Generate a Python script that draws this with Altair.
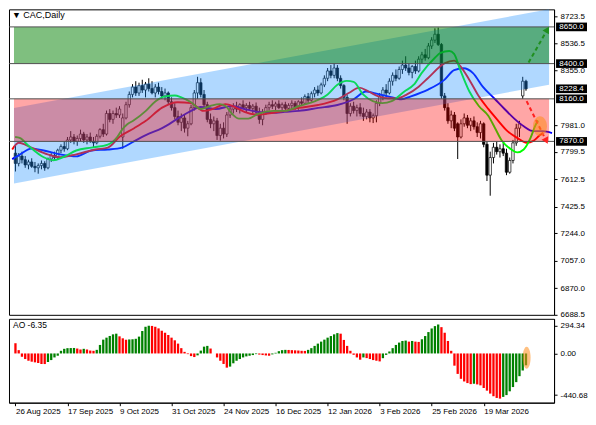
import altair as alt
import pandas as pd
import numpy as np

# ---------------- data ----------------
opens = [7790, 7720, 7770, 7745, 7710, 7730, 7700, 7690, 7705, 7720,
         7690, 7750, 7775, 7760, 7810, 7835, 7820, 7880, 7900, 7870,
         7890, 7920, 7880, 7900, 7870, 7860, 7905, 7950, 7920, 8060,
         8020, 8060, 8050, 7900, 8030, 8120, 8190, 8240, 8200, 8250,
         8220, 8260, 8230, 8200, 8240, 8210, 8180, 8200, 8140, 8100,
         8040, 8000, 8030, 7960, 7990, 8100, 8200, 8270, 8190, 8120,
         8020, 7990, 8010, 7910, 7960, 7920, 8050, 8090, 8110, 8090,
         8120, 8100, 8115, 8095, 8110, 8070, 8020, 8070, 8100, 8120,
         8110, 8125, 8100, 8120, 8095, 8115, 8130, 8100, 8140, 8130,
         8175, 8150, 8195, 8220, 8200, 8255, 8300, 8350, 8320, 8370,
         8300, 8250, 8170, 8060, 8110, 8080, 8100, 8060, 8040, 8070,
         8030, 8045, 8130, 8180, 8220, 8200, 8280, 8320, 8300, 8360,
         8390, 8370, 8340, 8380, 8350, 8430, 8460, 8440, 8520, 8560,
         8600, 8530, 8180, 8100, 8010, 8050, 7990, 7900, 7990, 8030,
         7980, 8010, 7970, 7930, 7990, 7850, 7640, 7760, 7830, 7800,
         7820, 7790, 7660, 7740, 7860, 7960, 8180, 8280]
highs = [7840, 7790, 7800, 7770, 7745, 7755, 7730, 7720, 7740, 7735,
         7760, 7790, 7800, 7820, 7850, 7870, 7900, 7940, 7920, 7910,
         7950, 7935, 7920, 7930, 7900, 7920, 7960, 7990, 8080, 8090,
         8080, 8100, 8110, 8060, 8140, 8210, 8260, 8280, 8270, 8290,
         8275, 8300, 8280, 8260, 8270, 8240, 8230, 8210, 8170, 8130,
         8080, 8060, 8050, 8010, 8120, 8220, 8310, 8300, 8220, 8140,
         8060, 8040, 8030, 7990, 8000, 8070, 8110, 8130, 8140, 8130,
         8150, 8130, 8140, 8125, 8135, 8100, 8090, 8120, 8140, 8150,
         8140, 8150, 8135, 8140, 8130, 8150, 8145, 8150, 8170, 8190,
         8200, 8210, 8240, 8250, 8270, 8320, 8370, 8390, 8400, 8390,
         8320, 8260, 8190, 8130, 8140, 8120, 8130, 8100, 8090, 8090,
         8060, 8150, 8200, 8240, 8260, 8300, 8340, 8360, 8380, 8420,
         8450, 8400, 8390, 8420, 8450, 8480, 8500, 8540, 8580, 8640,
         8645, 8540, 8200, 8130, 8080, 8070, 8000, 8020, 8060, 8050,
         8030, 8040, 8000, 8010, 8000, 7870, 7800, 7860, 7870, 7850,
         7860, 7820, 7760, 7880, 7990, 8010, 8310, 8290]
lows = [7665, 7700, 7720, 7690, 7680, 7690, 7660, 7650, 7680, 7670,
        7680, 7730, 7745, 7750, 7790, 7800, 7810, 7860, 7850, 7840,
        7870, 7860, 7850, 7860, 7830, 7850, 7890, 7900, 7910, 8000,
        7990, 8030, 8030, 7820, 8020, 8100, 8170, 8180, 8180, 8200,
        8170, 8210, 8190, 8170, 8190, 8160, 8150, 8120, 8080, 8020,
        7980, 7940, 7930, 7905, 7980, 8080, 8160, 8170, 8100, 8000,
        7960, 7940, 7880, 7875, 7890, 7900, 8030, 8060, 8070, 8060,
        8090, 8070, 8080, 8060, 8050, 7990, 7980, 8050, 8080, 8090,
        8080, 8090, 8070, 8080, 8070, 8090, 8085, 8085, 8110, 8120,
        8130, 8140, 8170, 8180, 8190, 8240, 8280, 8300, 8300, 8280,
        8230, 8150, 7990, 8040, 8060, 8040, 8040, 8010, 8020, 8000,
        7995, 8000, 8110, 8150, 8170, 8190, 8250, 8280, 8290, 8330,
        8350, 8320, 8300, 8330, 8340, 8400, 8420, 8430, 8500, 8540,
        8520, 8160, 8080, 7990, 7960, 7940, 7750, 7890, 7970, 7960,
        7940, 7950, 7900, 7890, 7830, 7600, 7500, 7720, 7780, 7760,
        7770, 7640, 7650, 7720, 7840, 7900, 8160, 8215]
closes = [7720, 7770, 7745, 7710, 7730, 7700, 7690, 7705, 7720, 7690,
          7750, 7775, 7760, 7810, 7835, 7820, 7880, 7900, 7870, 7890,
          7920, 7880, 7900, 7870, 7860, 7905, 7950, 7920, 8060, 8020,
          8060, 8050, 8090, 8030, 8120, 8190, 8240, 8200, 8250, 8220,
          8260, 8230, 8200, 8240, 8210, 8180, 8200, 8140, 8100, 8040,
          8000, 8030, 7960, 7990, 8100, 8200, 8270, 8190, 8120, 8020,
          7990, 8010, 7910, 7960, 7920, 8050, 8090, 8110, 8090, 8120,
          8100, 8115, 8095, 8110, 8070, 8020, 8070, 8100, 8120, 8110,
          8125, 8100, 8120, 8095, 8115, 8130, 8100, 8140, 8130, 8175,
          8150, 8195, 8220, 8200, 8255, 8300, 8350, 8320, 8370, 8300,
          8250, 8170, 8060, 8110, 8080, 8100, 8060, 8040, 8070, 8030,
          8045, 8130, 8180, 8220, 8200, 8280, 8320, 8300, 8360, 8390,
          8370, 8340, 8380, 8350, 8430, 8460, 8440, 8520, 8560, 8600,
          8530, 8180, 8100, 8010, 8050, 7960, 7900, 7990, 8030, 7980,
          8010, 7970, 7930, 7990, 7850, 7640, 7760, 7830, 7800, 7820,
          7790, 7660, 7740, 7860, 7960, 7990, 8280, 8228.4]

date_ticks = [0, 16, 32, 48, 64, 80, 96, 112, 128, 144]
date_labels = ["26 Aug 2025", "17 Sep 2025", "9 Oct 2025", "31 Oct 2025", "24 Nov 2025",
               "16 Dec 2025", "12 Jan 2026", "3 Feb 2026", "25 Feb 2026", "19 Mar 2026"]

price_ticks = [6688.5, 6870.0, 7057.0, 7244.0, 7425.5, 7612.5, 7799.5, 7981.0,
               8355.0, 8536.5, 8723.5]
marked_prices = [8650.0, 8400.0, 8228.4, 8160.0, 7870.0]

zone_low = [8400.0, 7870.0]
zone_high = [8650.0, 8160.0]
zone_colors = ["#008000", "#ff0000"]
zone_opacity = [0.5, 0.35]

channel_idx = [-0.45, 164.1]
channel_lower = [7584, 8256]
channel_upper = [8098, 8770]

# Alligator: lips (green), teeth (red), jaw (blue)
lips_idx = [-0.1, 1.3, 4, 8.7, 11.6, 14.6, 18.7, 23.4, 28.4, 31.3, 32.8, 34.3, 36.3, 40.1,
            43.1, 46, 49, 51, 54, 56.9, 59.9, 62.8, 64.6, 66.6, 68.7, 71.6, 74.6, 79.3,
            82.8, 87.2, 92.2, 96, 99, 101.9, 104, 106.9, 109.9, 112.8, 115.7, 119.6, 122.5,
            124.9, 129, 130.7, 133.4, 134.9, 136.6, 139.6, 142.5, 145.4, 147.5, 149.6,
            152.5, 154.3, 156.3, 158.4, 159.9, 160.7]
lips_val = [7900, 7894, 7841, 7762, 7742, 7762, 7808, 7828, 7848, 7900, 7950, 7985, 8012, 8078,
            8144, 8177, 8183, 8170, 8137, 8091, 8111, 8124, 8111, 8058, 8025, 8025, 8058, 8078,
            8078, 8111, 8144, 8190, 8256, 8282, 8276, 8190, 8144, 8131, 8144, 8210, 8256,
            8335, 8440, 8473, 8486, 8467, 8368, 8210, 8111, 8045, 7960, 7874,
            7815, 7795, 7815, 7894, 7979, 8012]
teeth_idx = [-1, 1, 4.9, 9.9, 13.7, 18.7, 24.6, 28.4, 32.2, 36.5, 40.1, 45.1, 49.9, 54, 57.8,
             60.7, 64.6, 67.5, 70.4, 74.6, 79.3, 82.8, 87.2, 93.1, 99, 102.8, 105.7, 108.6,
             111.6, 114.6, 117.5, 120.4, 124, 126.9, 131.9, 134.9, 136.6, 139.6, 142.5, 145.4,
             148.4, 151.3, 154.3, 157.2, 159.3, 161.3, 162.2]
teeth_val = [7815, 7861, 7828, 7782, 7762, 7782, 7815, 7828, 7905, 7960, 8010, 8100, 8137, 8131,
             8078, 8091, 8124, 8104, 8071, 8052, 8065, 8078, 8098, 8118, 8157, 8203, 8236, 8210,
             8177, 8164, 8164, 8190, 8243, 8302, 8401, 8420, 8388, 8289, 8177, 8091,
             8012, 7940, 7894, 7861, 7874, 7913, 7927]
jaw_idx = [-1, 1, 4.9, 8.7, 13.7, 18.7, 23.4, 28.4, 32.8, 35.7, 40.1, 45.1, 49.9, 54, 56.9,
           61.6, 66.6, 70.4, 74.6, 79.3, 82.8, 87.2, 93.1, 99, 104, 107.8, 110.7, 114.6, 118.7,
           121.6, 126.9, 131.9, 134.9, 137.8, 140.7, 143.7, 147.5, 150.4, 153.4, 156.3,
           159.3, 162.2, 165]
jaw_val = [7749, 7775, 7821, 7808, 7782, 7768, 7808, 7815, 7828, 7861, 7913, 7960, 8025, 8078,
           8104, 8091, 8111, 8091, 8071, 8065, 8071, 8078, 8098, 8118, 8157, 8210, 8197, 8177,
           8157, 8177, 8223, 8289, 8355, 8368, 8335, 8243, 8157, 8091, 8025, 7973,
           7940, 7940, 7927]

ao_values = [108, 35, -35, -59, -77, -87, -94, -101, -111, -112,
             -90, -70, -42, -24, 28, 49, 56, 57, 58, 52,
             42, 49, 42, 31, 28, 38, 90, 146, 167, 185,
             202, 209, 181, 160, 145, 148, 150, 155, 178, 237,
             282, 293, 291, 282, 265, 240, 219, 195, 167, 139,
             104, 56, 17, -7, -28, -38, -20, 30, 72, 80,
             52, 0, -42, -77, -111, -150, -139, -104, -77, -59,
             -42, -31, -24, -17, -7, -12, -17, -21, -24, -10,
             7, 24, 35, 38, 37, 35, 33, 31, 28, 27,
             38, 56, 80, 104, 125, 146, 167, 184, 202, 215,
             209, 143, 80, 28, -14, -42, -66, -42, -49, -59,
             -70, -77, -84, -50, -15, 21, 56, 90, 115, 132,
             136, 125, 132, 125, 122, 150, 184, 226, 264, 289,
             306, 278, 219, 132, 28, -129, -216, -268, -296, -313,
             -324, -320, -327, -337, -365, -393, -424, -452, -470, -477,
             -459, -440, -400, -355, -303, -240, -180, -125]
ao_ticks = [294.34, 0.0, -440.68]

up_arrow_idx = [157.8, 163.4]
up_arrow_price = [8407, 8625]
down_arrow_idx = [157.2, 163.1]
down_arrow_price = [8144, 7880]
mouth_idx = [161.3]
mouth_price = [7973]
ao_mark_idx = [157.2]
ao_mark_val = [-46]

# ---------------- layout / style ----------------
FONT = "Liberation Sans"
W, H, H_AO = 546, 306, 84
X_DOMAIN = [-0.45, 164.1]
Y_DOMAIN = [6688.5, 8769.6]
AO_DOMAIN = [-520, 366]

xs = alt.Scale(domain=X_DOMAIN, nice=False, zero=False)
ys = alt.Scale(domain=Y_DOMAIN, nice=False, zero=False)
aos = alt.Scale(domain=AO_DOMAIN, nice=False)

yaxis = alt.Axis(orient="right", values=price_ticks, format=".1f", tickSize=3,
                 labelPadding=3, grid=False, labelFlush=False, labelFontSize=8,
                 labelFont=FONT, labelColor="black", domainColor="black", tickColor="black")


def X(f):
    return alt.X(f, scale=xs, axis=None, title=None)


def Y(f):
    return alt.Y(f, scale=ys, axis=yaxis, title=None)


n = len(closes)
candles = pd.DataFrame({"i": list(range(n)), "open": opens, "high": highs,
                        "low": lows, "close": closes})
candles["fillc"] = np.where(candles["close"] >= candles["open"], "white", "black")
candles["top"] = candles[["open", "close"]].max(axis=1)
candles["bot"] = candles[["open", "close"]].min(axis=1)

wicks = alt.Chart(candles).mark_rule(color="black", strokeWidth=1, clip=True).encode(
    x=X("i:Q"), y=Y("low:Q"), y2="high:Q")
bodies = alt.Chart(candles).mark_bar(width=2.4, stroke="black", strokeWidth=0.7, clip=True).encode(
    x=X("i:Q"), y=Y("bot:Q"), y2="top:Q",
    color=alt.Color("fillc:N", scale=None))


def ma_line(idx, vals, color):
    df = pd.DataFrame({"i": idx, "v": vals})
    return alt.Chart(df).mark_line(color=color, strokeWidth=1.9, interpolate="monotone",
                                   clip=True).encode(x=X("i:Q"), y=Y("v:Q"))


jaw = ma_line(jaw_idx, jaw_val, "#0000ff")
teeth = ma_line(teeth_idx, teeth_val, "#ff0000")
lips = ma_line(lips_idx, lips_val, "#00ff00")

chan_df = pd.DataFrame({"i": channel_idx, "lo": channel_lower, "hi": channel_upper})
channel = alt.Chart(chan_df).mark_area(color="#1e90ff", opacity=0.35, clip=True).encode(
    x=X("i:Q"), y=Y("lo:Q"), y2="hi:Q")

zones_df = pd.DataFrame({"x0": [X_DOMAIN[0]] * 2, "x1": [X_DOMAIN[1]] * 2,
                         "lo": zone_low, "hi": zone_high, "c": zone_colors, "op": zone_opacity})
zones = alt.Chart(zones_df).mark_rect(clip=True).encode(
    x=X("x0:Q"), x2="x1:Q", y=Y("lo:Q"), y2="hi:Q",
    color=alt.Color("c:N", scale=None), opacity=alt.Opacity("op:Q", scale=None))

borders_df = pd.DataFrame({"p": zone_low + zone_high})
borders = alt.Chart(borders_df).mark_rule(color="#505050", strokeWidth=1).encode(y=Y("p:Q"))

up_df = pd.DataFrame({"i": up_arrow_idx, "p": up_arrow_price})
down_df = pd.DataFrame({"i": down_arrow_idx, "p": down_arrow_price})
up_line = alt.Chart(up_df).mark_line(color="#1f8f1f", strokeWidth=2, strokeDash=[4, 3]).encode(
    x=X("i:Q"), y=Y("p:Q"))
down_line = alt.Chart(down_df).mark_line(color="#ff2020", strokeWidth=2, strokeDash=[4, 3]).encode(
    x=X("i:Q"), y=Y("p:Q"))
up_head = alt.Chart(up_df.tail(1)).mark_point(shape="triangle", size=55, filled=True,
                                              color="#1f8f1f", opacity=1, angle=30).encode(
    x=X("i:Q"), y=Y("p:Q"))
down_head = alt.Chart(down_df.tail(1)).mark_point(shape="triangle", size=55, filled=True,
                                                  color="#ff2020", opacity=1, angle=153).encode(
    x=X("i:Q"), y=Y("p:Q"))


def ellipse_path(a):
    k = 0.5523
    return (f"M0,-1C{k*a:.3f},-1 {a:.3f},-{k:.3f} {a:.3f},0"
            f"C{a:.3f},{k:.3f} {k*a:.3f},1 0,1"
            f"C{-k*a:.3f},1 {-a:.3f},{k:.3f} {-a:.3f},0"
            f"C{-a:.3f},-{k:.3f} {-k*a:.3f},-1 0,-1Z")


mouth_df = pd.DataFrame({"i": mouth_idx, "p": mouth_price})
mouth = alt.Chart(mouth_df).mark_point(shape=ellipse_path(0.7), size=400, filled=True,
                                       color="#ff8c1a", opacity=0.55).encode(
    x=X("i:Q"), y=Y("p:Q"))

marks_df = pd.DataFrame({"p": marked_prices, "label": [f"{v:.1f}" for v in marked_prices]})
boxes = alt.Chart(marks_df).mark_point(shape="M-1,-0.28H1V0.28H-1Z", size=961, filled=True,
                                       color="black", opacity=1).encode(
    x=alt.value(W + 17.5), y=Y("p:Q"))
box_text = alt.Chart(marks_df).mark_text(color="white", fontSize=8, font=FONT,
                                         align="center", baseline="middle").encode(
    x=alt.value(W + 17.5), y=Y("p:Q"), text="label:N")

main = alt.layer(
    wicks, bodies, jaw, teeth, lips, channel, zones, borders,
    up_line, down_line, up_head, down_head, mouth, boxes, box_text
).properties(
    width=W, height=H,
    title=alt.TitleParams("▼ CAC,Daily", anchor="start", frame="group", offset=-11, dx=3,
                          fontSize=9, font=FONT, fontWeight="normal", color="black")
)

# ---------------- AO panel ----------------
ao_df = pd.DataFrame({"i": list(range(len(ao_values))), "ao": ao_values})
ao_df["barc"] = np.where(ao_df["ao"].diff() > 0, "#008000", "#ff0000")

date_expr = ("[" + ",".join(f"'{d}'" for d in date_labels) + "][indexof(["
             + ",".join(str(t) for t in date_ticks) + "], datum.value)]")
xaxis = alt.Axis(values=date_ticks, labelExpr=date_expr, tickSize=3, labelAlign="left",
                 labelPadding=2, labelFontSize=8, labelFont=FONT, labelColor="black",
                 grid=False, labelOverlap=False, labelFlush=False, domainColor="black",
                 tickColor="black", title=None)
ao_axis = alt.Axis(orient="right", values=ao_ticks,
                   labelExpr="datum.value == 0 ? '0.00' : '' + datum.value",
                   tickSize=3, labelPadding=3, grid=False, labelFontSize=8, labelFont=FONT,
                   labelColor="black", domainColor="black", tickColor="black", title=None)

ao_bars = alt.Chart(ao_df).mark_bar(width=2.3).encode(
    x=alt.X("i:Q", scale=xs, axis=xaxis, title=None),
    y=alt.Y("ao:Q", scale=aos, axis=ao_axis, title=None, stack=None),
    color=alt.Color("barc:N", scale=None))
ao_mark_df = pd.DataFrame({"i": ao_mark_idx, "v": ao_mark_val})
ao_mark = alt.Chart(ao_mark_df).mark_point(shape=ellipse_path(0.36), size=484, filled=True,
                                           color="#ff8c1a", opacity=0.55).encode(
    x=alt.X("i:Q", scale=xs, axis=xaxis, title=None),
    y=alt.Y("v:Q", scale=aos, axis=ao_axis, title=None))

ao = alt.layer(ao_bars, ao_mark).properties(
    width=W, height=H_AO,
    title=alt.TitleParams("AO -6.35", anchor="start", frame="group", offset=-11, dx=4,
                          fontSize=8.5, font=FONT, fontWeight="normal", color="black")
)

chart = alt.vconcat(main, ao, spacing=4, bounds="flush").properties(
    padding=0, background="white"
).configure_view(stroke="black", strokeWidth=1)

chart.save("out.html", embed_options={"renderer": "svg", "actions": False})
